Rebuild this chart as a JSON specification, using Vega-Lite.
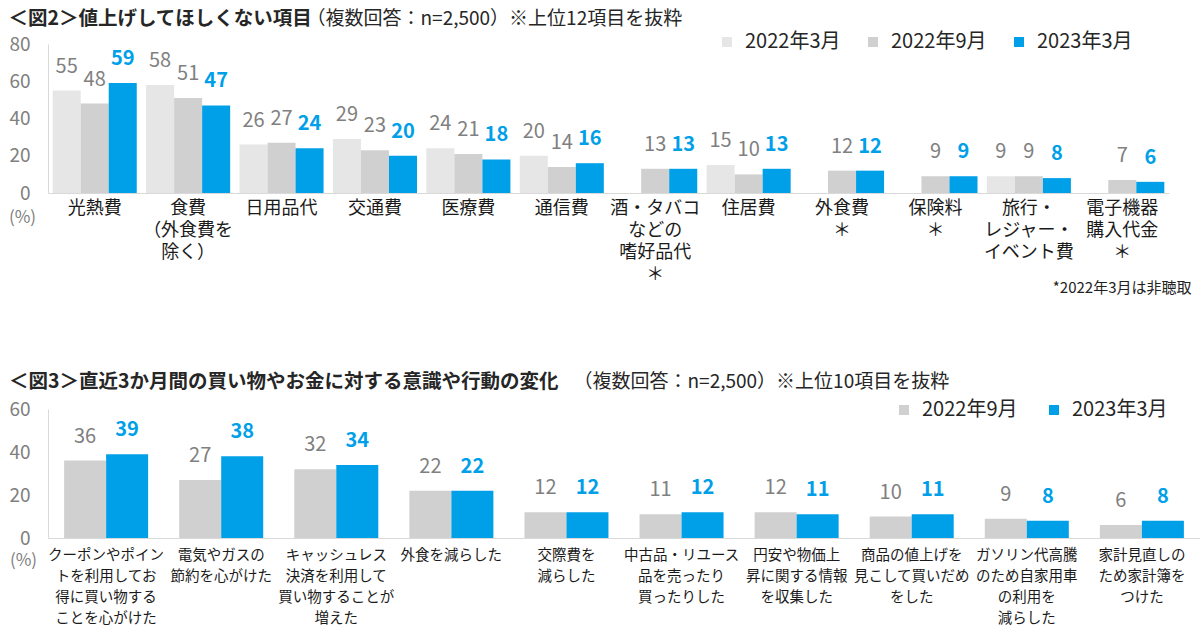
{
  "$schema": "https://vega.github.io/schema/vega-lite/v6.json",
  "padding": {"left": 8, "top": 8, "right": 0, "bottom": 0},
  "spacing": 76,
  "resolve": {"scale": {"color": "independent", "xOffset": "independent"}, "legend": {"color": "independent"}},
  "config": {
    "font": "Noto Sans CJK JP",
    "view": {"stroke": null},
    "text": {"font": "Noto Sans CJK JP"}
  },
  "vconcat": [
    {
      "width": 1121,
      "height": 149,
      "title": {
        "text": "＜図2＞値上げしてほしくない項目",
        "anchor": "start",
        "frame": "bounds",
        "fontSize": 19.5,
        "fontWeight": "bold",
        "color": "#262626",
        "offset": -20
      },
      "data": {
        "values": [
          {"category": "光熱費", "series": "2022年3月", "value": 55},
          {"category": "光熱費", "series": "2022年9月", "value": 48},
          {"category": "光熱費", "series": "2023年3月", "value": 59},
          {"category": "食費\n（外食費を\n除く）", "series": "2022年3月", "value": 58},
          {"category": "食費\n（外食費を\n除く）", "series": "2022年9月", "value": 51},
          {"category": "食費\n（外食費を\n除く）", "series": "2023年3月", "value": 47},
          {"category": "日用品代", "series": "2022年3月", "value": 26},
          {"category": "日用品代", "series": "2022年9月", "value": 27},
          {"category": "日用品代", "series": "2023年3月", "value": 24},
          {"category": "交通費", "series": "2022年3月", "value": 29},
          {"category": "交通費", "series": "2022年9月", "value": 23},
          {"category": "交通費", "series": "2023年3月", "value": 20},
          {"category": "医療費", "series": "2022年3月", "value": 24},
          {"category": "医療費", "series": "2022年9月", "value": 21},
          {"category": "医療費", "series": "2023年3月", "value": 18},
          {"category": "通信費", "series": "2022年3月", "value": 20},
          {"category": "通信費", "series": "2022年9月", "value": 14},
          {"category": "通信費", "series": "2023年3月", "value": 16},
          {"category": "酒・タバコ\nなどの\n嗜好品代\n＊", "series": "2022年9月", "value": 13},
          {"category": "酒・タバコ\nなどの\n嗜好品代\n＊", "series": "2023年3月", "value": 13},
          {"category": "住居費", "series": "2022年3月", "value": 15},
          {"category": "住居費", "series": "2022年9月", "value": 10},
          {"category": "住居費", "series": "2023年3月", "value": 13},
          {"category": "外食費\n＊", "series": "2022年9月", "value": 12},
          {"category": "外食費\n＊", "series": "2023年3月", "value": 12},
          {"category": "保険料\n＊", "series": "2022年9月", "value": 9},
          {"category": "保険料\n＊", "series": "2023年3月", "value": 9},
          {"category": "旅行・\nレジャー・\nイベント費", "series": "2022年3月", "value": 9},
          {"category": "旅行・\nレジャー・\nイベント費", "series": "2022年9月", "value": 9},
          {"category": "旅行・\nレジャー・\nイベント費", "series": "2023年3月", "value": 8},
          {"category": "電子機器\n購入代金\n＊", "series": "2022年9月", "value": 7},
          {"category": "電子機器\n購入代金\n＊", "series": "2023年3月", "value": 6}
        ]
      },
      "encoding": {
        "xOffset": {
          "field": "series", "type": "nominal", "sort": ["2022年3月", "2022年9月", "2023年3月"],
          "scale": {"paddingInner": 0, "paddingOuter": 0}
        },
        "y": {
          "field": "value", "type": "quantitative",
          "scale": {"domain": [0, 80], "nice": false},
          "axis": {
            "values": [0, 20, 40, 60, 80], "grid": false, "ticks": false, "domainColor": "#d9d9d9",
            "labelFontSize": 19, "labelColor": "#808080", "labelPadding": 18,
            "title": "(%)", "titleAngle": 0, "titleX": -26, "titleY": 173, "titleAlign": "center",
            "titleBaseline": "middle", "titleFontSize": 17, "titleFontWeight": "normal", "titleColor": "#808080"
          }
        }
      },
      "resolve": {"axis": {"x": "independent"}},
      "layer": [
        {
          "mark": {"type": "bar"},
          "encoding": {
            "x": {
              "field": "category", "type": "nominal", "sort": null,
              "scale": {"paddingInner": 0.1, "paddingOuter": 0.05},
              "axis": {
                "title": "*2022年3月は非聴取",
                "titleAnchor": "end", "titleAlign": "right", "titleX": 1143, "titleY": 94,
                "titleBaseline": "middle", "titleFontSize": 15, "titleFontWeight": "normal", "titleColor": "#222222",
                "labelAngle": 0, "labelFontSize": 18, "labelColor": "#1a1a1a", "labelPadding": 6,
                "labelLineHeight": 22, "labelExpr": "split(datum.label, '\\n')",
                "ticks": false, "domainColor": "#d9d9d9", "labelOverlap": false, "labelBound": false, "labelLimit": 300
              }
            },
            "color": {
              "field": "series", "type": "nominal",
              "scale": {"domain": ["2022年3月", "2022年9月", "2023年3月"], "range": ["#e6e6e6", "#d0d0d0", "#00a0e9"]},
              "legend": {
                "orient": "none", "legendX": 669, "legendY": -12, "direction": "horizontal", "title": null,
                "symbolType": "square", "symbolSize": 100, "symbolStrokeWidth": 0,
                "labelFontSize": 20, "labelColor": "#262626", "columnPadding": 22, "labelOffset": 8
              }
            }
          }
        },
        {
          "transform": [{"filter": "datum.series !== '2023年3月'"}],
          "mark": {"type": "text", "fontSize": 20, "color": "#808080", "dy": -24, "baseline": "middle"},
          "encoding": {
            "x": {
              "field": "category", "type": "nominal", "sort": null,
              "axis": {
                "orient": "top", "labels": false, "ticks": false, "domain": false,
                "title": "（複数回答：n=2,500）※上位12項目を抜粋",
                "titleAnchor": "start", "titleAlign": "left", "titleX": 258, "titleY": -26,
                "titleBaseline": "middle", "titleFontSize": 19, "titleFontWeight": "normal", "titleColor": "#262626"
              }
            },
            "text": {"field": "value", "type": "quantitative"}
          }
        },
        {
          "transform": [{"filter": "datum.series === '2023年3月'"}],
          "mark": {"type": "text", "fontSize": 20, "fontWeight": "bold", "color": "#00a0e9", "dy": -24, "baseline": "middle"},
          "encoding": {
            "x": {"field": "category", "type": "nominal", "sort": null, "axis": null},
            "text": {"field": "value", "type": "quantitative"}
          }
        }
      ]
    },
    {
      "width": 1152,
      "height": 129,
      "title": {
        "text": "＜図3＞直近3か月間の買い物やお金に対する意識や行動の変化",
        "anchor": "start",
        "frame": "bounds",
        "fontSize": 19.5,
        "fontWeight": "bold",
        "color": "#262626",
        "offset": -20
      },
      "data": {
        "values": [
          {"category": "クーポンやポイン\nトを利用してお\n得に買い物する\nことを心がけた", "series": "2022年9月", "value": 36},
          {"category": "クーポンやポイン\nトを利用してお\n得に買い物する\nことを心がけた", "series": "2023年3月", "value": 39},
          {"category": "電気やガスの\n節約を心がけた", "series": "2022年9月", "value": 27},
          {"category": "電気やガスの\n節約を心がけた", "series": "2023年3月", "value": 38},
          {"category": "キャッシュレス\n決済を利用して\n買い物することが\n増えた", "series": "2022年9月", "value": 32},
          {"category": "キャッシュレス\n決済を利用して\n買い物することが\n増えた", "series": "2023年3月", "value": 34},
          {"category": "外食を減らした", "series": "2022年9月", "value": 22},
          {"category": "外食を減らした", "series": "2023年3月", "value": 22},
          {"category": "交際費を\n減らした", "series": "2022年9月", "value": 12},
          {"category": "交際費を\n減らした", "series": "2023年3月", "value": 12},
          {"category": "中古品・リユース\n品を売ったり\n買ったりした", "series": "2022年9月", "value": 11},
          {"category": "中古品・リユース\n品を売ったり\n買ったりした", "series": "2023年3月", "value": 12},
          {"category": "円安や物価上\n昇に関する情報\nを収集した", "series": "2022年9月", "value": 12},
          {"category": "円安や物価上\n昇に関する情報\nを収集した", "series": "2023年3月", "value": 11},
          {"category": "商品の値上げを\n見こして買いだめ\nをした", "series": "2022年9月", "value": 10},
          {"category": "商品の値上げを\n見こして買いだめ\nをした", "series": "2023年3月", "value": 11},
          {"category": "ガソリン代高騰\nのため自家用車\nの利用を\n減らした", "series": "2022年9月", "value": 9},
          {"category": "ガソリン代高騰\nのため自家用車\nの利用を\n減らした", "series": "2023年3月", "value": 8},
          {"category": "家計見直しの\nため家計簿を\nつけた", "series": "2022年9月", "value": 6},
          {"category": "家計見直しの\nため家計簿を\nつけた", "series": "2023年3月", "value": 8}
        ]
      },
      "encoding": {
        "xOffset": {
          "field": "series", "type": "nominal", "sort": ["2022年9月", "2023年3月"],
          "scale": {"paddingInner": 0, "paddingOuter": 0}
        },
        "y": {
          "field": "value", "type": "quantitative",
          "scale": {"domain": [0, 60], "nice": false},
          "axis": {
            "values": [0, 20, 40, 60], "grid": false, "ticks": false, "domainColor": "#d9d9d9",
            "labelFontSize": 19, "labelColor": "#808080", "labelPadding": 18,
            "title": "(%)", "titleAngle": 0, "titleX": -25, "titleY": 151, "titleAlign": "center",
            "titleBaseline": "middle", "titleFontSize": 17, "titleFontWeight": "normal", "titleColor": "#808080"
          }
        }
      },
      "resolve": {"axis": {"x": "independent"}},
      "layer": [
        {
          "mark": {"type": "bar"},
          "encoding": {
            "x": {
              "field": "category", "type": "nominal", "sort": null,
              "scale": {"paddingInner": 0.27, "paddingOuter": 0.14},
              "axis": {
                "title": null,
                "labelAngle": 0, "labelFontSize": 14.5, "labelColor": "#1a1a1a", "labelPadding": 10,
                "labelLineHeight": 21, "labelExpr": "split(datum.label, '\\n')",
                "ticks": false, "domainColor": "#d9d9d9", "labelOverlap": false, "labelBound": false, "labelLimit": 300
              }
            },
            "color": {
              "field": "series", "type": "nominal",
              "scale": {"domain": ["2022年9月", "2023年3月"], "range": ["#d0d0d0", "#00a0e9"]},
              "legend": {
                "orient": "none", "legendX": 846, "legendY": -9, "direction": "horizontal", "title": null,
                "symbolType": "square", "symbolSize": 100, "symbolStrokeWidth": 0,
                "labelFontSize": 20, "labelColor": "#262626", "columnPadding": 26, "labelOffset": 8
              }
            }
          }
        },
        {
          "transform": [{"filter": "datum.series !== '2023年3月'"}],
          "mark": {"type": "text", "fontSize": 20, "color": "#808080", "dy": -24, "baseline": "middle"},
          "encoding": {
            "x": {
              "field": "category", "type": "nominal", "sort": null,
              "axis": {
                "orient": "top", "labels": false, "ticks": false, "domain": false,
                "title": "（複数回答：n=2,500）※上位10項目を抜粋",
                "titleAnchor": "start", "titleAlign": "left", "titleX": 525, "titleY": -28,
                "titleBaseline": "middle", "titleFontSize": 19, "titleFontWeight": "normal", "titleColor": "#262626"
              }
            },
            "text": {"field": "value", "type": "quantitative"}
          }
        },
        {
          "transform": [{"filter": "datum.series === '2023年3月'"}],
          "mark": {"type": "text", "fontSize": 20, "fontWeight": "bold", "color": "#00a0e9", "dy": -24, "baseline": "middle"},
          "encoding": {
            "x": {"field": "category", "type": "nominal", "sort": null, "axis": null},
            "text": {"field": "value", "type": "quantitative"}
          }
        }
      ]
    }
  ]
}
